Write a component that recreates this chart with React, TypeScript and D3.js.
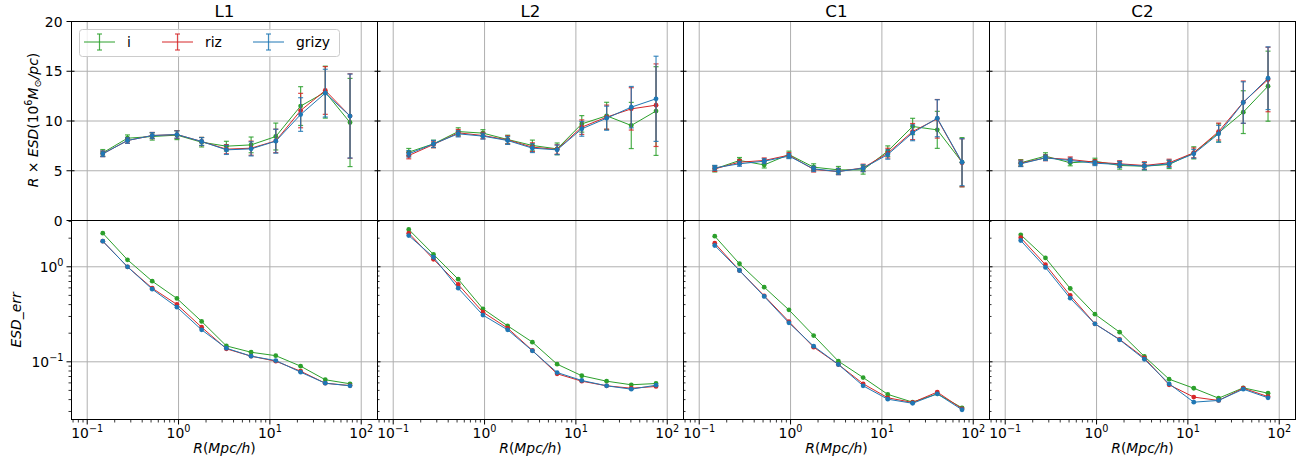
import React from 'react';
import * as d3 from 'd3';

const panelNames = ['L1', 'L2', 'C1', 'C2'];
const radii = [0.148, 0.276, 0.515, 0.96, 1.79, 3.34, 6.23, 11.6, 21.7, 40.4, 75.4];
const topTicks = [0, 5, 10, 15, 20];
const xTicks = [0.1, 1, 10, 100];
const xTickExp = ['\u22121', '0', '1', '2'];
const yLogTicks = [1, 0.1];
const yLogExp = ['0', '\u22121'];

// R x ESD, one row per panel
const rEsdI = [
  [6.8, 8.27, 8.44, 8.58, 7.87, 7.47, 7.6, 8.44, 11.5, 12.9, 9.85],
  [6.87, 7.7, 8.94, 8.78, 8.14, 7.54, 7.2, 9.71, 10.52, 9.55, 11.0],
  [5.19, 6.03, 5.59, 6.63, 5.36, 5.09, 5.09, 6.97, 9.45, 9.11, 5.86],
  [5.8, 6.47, 5.8, 5.96, 5.53, 5.46, 5.63, 6.8, 8.81, 10.89, 13.5],
];
const rEsdRiz = [
  [6.7, 8.04, 8.54, 8.64, 7.94, 7.17, 7.27, 8.0, 11.05, 13.07, 10.5],
  [6.53, 7.64, 8.81, 8.54, 8.1, 7.37, 7.14, 9.38, 10.39, 11.22, 11.59],
  [5.19, 5.86, 6.03, 6.57, 5.13, 4.92, 5.29, 6.77, 8.94, 10.22, 5.8],
  [5.76, 6.3, 6.13, 5.86, 5.7, 5.53, 5.8, 6.8, 8.94, 11.89, 14.17],
];
const rEsdGrizy = [
  [6.7, 8.04, 8.54, 8.64, 7.94, 7.1, 7.2, 7.97, 10.65, 12.8, 10.5],
  [6.7, 7.7, 8.71, 8.48, 8.04, 7.27, 7.1, 9.21, 10.28, 11.39, 12.23],
  [5.29, 5.7, 5.96, 6.47, 5.19, 4.92, 5.26, 6.63, 8.81, 10.28, 5.86],
  [5.7, 6.3, 6.03, 5.76, 5.63, 5.46, 5.7, 6.7, 8.71, 11.86, 14.3],
];

// error bars on R x ESD
const errI = [
  [0.33, 0.33, 0.36, 0.45, 0.48, 0.49, 0.79, 1.35, 1.95, 2.61, 4.43],
  [0.37, 0.37, 0.38, 0.35, 0.43, 0.54, 0.59, 0.83, 1.36, 2.32, 4.46],
  [0.31, 0.3, 0.31, 0.34, 0.34, 0.34, 0.43, 0.53, 0.82, 1.86, 2.47],
  [0.32, 0.34, 0.3, 0.3, 0.37, 0.38, 0.41, 0.61, 0.9, 2.15, 3.52],
];
const errRiz = [
  [0.28, 0.28, 0.31, 0.39, 0.41, 0.46, 0.71, 1.18, 1.73, 2.4, 4.24],
  [0.33, 0.33, 0.34, 0.32, 0.41, 0.44, 0.47, 0.73, 1.21, 2.13, 4.15],
  [0.26, 0.25, 0.26, 0.25, 0.26, 0.31, 0.37, 0.49, 0.81, 1.94, 2.41],
  [0.3, 0.29, 0.26, 0.24, 0.31, 0.37, 0.36, 0.49, 0.85, 2.13, 3.24],
];
const errGrizy = [
  [0.28, 0.28, 0.3, 0.36, 0.39, 0.46, 0.71, 1.2, 1.69, 2.4, 4.22],
  [0.32, 0.35, 0.31, 0.3, 0.39, 0.44, 0.48, 0.74, 1.21, 2.08, 4.28],
  [0.25, 0.25, 0.25, 0.25, 0.26, 0.31, 0.35, 0.47, 0.79, 1.86, 2.36],
  [0.28, 0.27, 0.24, 0.24, 0.31, 0.36, 0.37, 0.44, 0.85, 2.08, 3.15],
];

// ESD_err
const esdErrI = [
  [2.26, 1.185, 0.705, 0.464, 0.266, 0.147, 0.126, 0.116, 0.09, 0.0647, 0.0587],
  [2.47, 1.35, 0.74, 0.361, 0.239, 0.161, 0.0944, 0.0713, 0.0625, 0.0573, 0.0591],
  [2.1, 1.076, 0.61, 0.352, 0.189, 0.1015, 0.0683, 0.0454, 0.0376, 0.046, 0.0328],
  [2.17, 1.24, 0.591, 0.317, 0.205, 0.1138, 0.0656, 0.0527, 0.0414, 0.0532, 0.0467],
];
const esdErrRiz = [
  [1.86, 1.0, 0.595, 0.401, 0.231, 0.137, 0.1146, 0.1015, 0.0796, 0.0595, 0.0562],
  [2.26, 1.2, 0.651, 0.333, 0.226, 0.1315, 0.0748, 0.0625, 0.0559, 0.0527, 0.055],
  [1.77, 0.914, 0.495, 0.265, 0.1425, 0.0937, 0.0587, 0.0418, 0.0373, 0.048, 0.032],
  [2.02, 1.05, 0.499, 0.251, 0.172, 0.1096, 0.0573, 0.0425, 0.0392, 0.0527, 0.043],
];
const esdErrGrizy = [
  [1.86, 1.0, 0.581, 0.376, 0.217, 0.139, 0.1146, 0.103, 0.0778, 0.0595, 0.0559],
  [2.13, 1.26, 0.595, 0.31, 0.217, 0.1305, 0.0771, 0.0636, 0.0559, 0.0515, 0.0567],
  [1.675, 0.914, 0.487, 0.257, 0.146, 0.0937, 0.0559, 0.0404, 0.0366, 0.046, 0.0313],
  [1.89, 0.984, 0.467, 0.251, 0.1705, 0.1064, 0.0587, 0.0376, 0.0392, 0.0515, 0.0418],
];

const series = [
  { name: 'i', color: '#2ca02c', val: rEsdI, err: errI, esd: esdErrI },
  { name: 'riz', color: '#d62728', val: rEsdRiz, err: errRiz, esd: esdErrRiz },
  { name: 'grizy', color: '#1f77b4', val: rEsdGrizy, err: errGrizy, esd: esdErrGrizy },
];

const width = 1314,
  height = 462;
const left = 71.5,
  panelW = 306;
const top = 21.5,
  mid = 220.5,
  bottom = 419.5;
const font = 'DejaVu Sans, sans-serif';
const grid = '#b0b0b0';

const yTop = d3.scaleLinear().domain([0, 20]).range([mid, top]);
const yBot = d3.scaleLog().domain([0.0247, 3.07]).range([bottom, mid]);

const xMinor: number[] = [];
[0.01, 0.1, 1, 10, 100].forEach((d) => {
  for (let k = 2; k <= 9; k++) xMinor.push(k * d);
});
const yMinor: number[] = [];
[0.01, 0.1, 1].forEach((d) => {
  for (let k = 2; k <= 9; k++) yMinor.push(k * d);
});

function Panel({ idx }: { idx: number }) {
  const x0 = left + idx * panelW;
  const x = d3.scaleLog().domain([0.0673, 150.7]).range([x0, x0 + panelW]);
  const [xd0, xd1] = x.domain();
  const minX = xMinor.filter((v) => v > xd0 && v < xd1);
  const [yd0, yd1] = yBot.domain();
  const minY = yMinor.filter((v) => v > yd0 && v < yd1);
  const lineTop = d3
    .line<number>()
    .x((_, i) => x(radii[i]))
    .y((v) => yTop(v));
  const lineBot = d3
    .line<number>()
    .x((_, i) => x(radii[i]))
    .y((v) => yBot(v));
  const first = idx === 0;
  const last = idx === 3;
  return (
    <g>
      {/* grid */}
      {xTicks.map((t) => (
        <line key={'gx' + t} x1={x(t)} x2={x(t)} y1={top} y2={bottom} stroke={grid} strokeWidth={1} />
      ))}
      {topTicks.slice(1, 4).map((t) => (
        <line key={'gy' + t} x1={x0} x2={x0 + panelW} y1={yTop(t)} y2={yTop(t)} stroke={grid} strokeWidth={1} />
      ))}
      {yLogTicks.map((t) => (
        <line key={'gl' + t} x1={x0} x2={x0 + panelW} y1={yBot(t)} y2={yBot(t)} stroke={grid} strokeWidth={1} />
      ))}

      {/* top: R x ESD with error bars */}
      {series.map((s) => (
        <g key={'t' + s.name}>
          <path d={lineTop(s.val[idx]) || ''} fill="none" stroke={s.color} strokeWidth={1} />
          {s.val[idx].map((v, i) => {
            const cx = x(radii[i]);
            const e = s.err[idx][i];
            return (
              <g key={i} stroke={s.color} strokeOpacity={0.85}>
                <line x1={cx} x2={cx} y1={yTop(v + e)} y2={yTop(v - e)} strokeWidth={1.2} />
                <line x1={cx - 2.5} x2={cx + 2.5} y1={yTop(v + e)} y2={yTop(v + e)} strokeWidth={1.2} />
                <line x1={cx - 2.5} x2={cx + 2.5} y1={yTop(v - e)} y2={yTop(v - e)} strokeWidth={1.2} />
                <circle cx={cx} cy={yTop(v)} r={2.4} fill={s.color} stroke="none" />
              </g>
            );
          })}
        </g>
      ))}

      {/* bottom: ESD_err */}
      {series.map((s) => (
        <g key={'b' + s.name}>
          <path d={lineBot(s.esd[idx]) || ''} fill="none" stroke={s.color} strokeWidth={1} />
          {s.esd[idx].map((v, i) => (
            <circle key={i} cx={x(radii[i])} cy={yBot(v)} r={2.4} fill={s.color} />
          ))}
        </g>
      ))}

      {/* ticks */}
      {xTicks.map((t) => (
        <line key={'xt' + t} x1={x(t)} x2={x(t)} y1={bottom} y2={bottom + 5} stroke="#000" strokeWidth={1} />
      ))}
      {minX.map((t) => (
        <line key={'xm' + t} x1={x(t)} x2={x(t)} y1={bottom} y2={bottom + 3} stroke="#000" strokeWidth={0.8} />
      ))}
      {topTicks.map((t) => (
        <g key={'yt' + t}>
          <line x1={first ? x0 - 5 : x0 - 3} x2={x0 + 3} y1={yTop(t)} y2={yTop(t)} stroke="#000" strokeWidth={1} />
          {last && <line x1={x0 + panelW - 5} x2={x0 + panelW} y1={yTop(t)} y2={yTop(t)} stroke="#000" strokeWidth={1} />}
        </g>
      ))}
      {yLogTicks.map((t) => (
        <line key={'yl' + t} x1={first ? x0 - 5 : x0} x2={first ? x0 : x0 + 3} y1={yBot(t)} y2={yBot(t)} stroke="#000" strokeWidth={1} />
      ))}
      {minY.map((t) => (
        <line key={'ym' + t} x1={first ? x0 - 3 : x0} x2={first ? x0 : x0 + 2} y1={yBot(t)} y2={yBot(t)} stroke="#000" strokeWidth={0.8} />
      ))}

      {/* frame */}
      <rect x={x0} y={top} width={panelW} height={bottom - top} fill="none" stroke="#000" strokeWidth={1} />
      <line x1={x0} x2={x0 + panelW} y1={mid} y2={mid} stroke="#000" strokeWidth={1} />

      {/* labels */}
      <text x={x0 + panelW / 2} y={top - 5} textAnchor="middle" fontSize={16.7} fontFamily={font}>
        {panelNames[idx]}
      </text>
      {xTicks.map((t, i) => (
        <text key={'xl' + t} x={x(t)} y={438} textAnchor="middle" fontSize={13.9} fontFamily={font}>
          10<tspan dy={-6} fontSize={9.7}>{xTickExp[i]}</tspan>
        </text>
      ))}
      <text x={x0 + panelW / 2} y={453} textAnchor="middle" fontSize={13.9} fontFamily={font} fontStyle="italic">
        R<tspan fontStyle="normal">(</tspan>Mpc/h<tspan fontStyle="normal">)</tspan>
      </text>
      {first &&
        topTicks.map((t) => (
          <text key={'tl' + t} x={x0 - 9} y={yTop(t) + 5} textAnchor="end" fontSize={13.9} fontFamily={font}>
            {t}
          </text>
        ))}
      {first &&
        yLogTicks.map((t, i) => (
          <text key={'ll' + t} x={x0 - 8} y={yBot(t) + 5} textAnchor="end" fontSize={13.9} fontFamily={font}>
            10<tspan dy={-6} fontSize={9.7}>{yLogExp[i]}</tspan>
          </text>
        ))}
    </g>
  );
}

function Legend() {
  const bx = 79.5,
    by = 29.5;
  const items = [
    { s: series[0], hx: 84, tx: 127 },
    { s: series[1], hx: 162, tx: 205 },
    { s: series[2], hx: 253, tx: 296 },
  ];
  const cy = 42;
  return (
    <g>
      <rect x={bx} y={by} width={260} height={27} rx={3} fill="#fff" fillOpacity={0.8} stroke="#cccccc" strokeWidth={1} />
      {items.map(({ s, hx, tx }) => (
        <g key={s.name}>
          <g stroke={s.color}>
            <line x1={hx} x2={hx + 31} y1={cy} y2={cy} strokeWidth={1} />
            <line x1={hx + 15.5} x2={hx + 15.5} y1={cy - 8} y2={cy + 8} strokeWidth={1.2} strokeOpacity={0.85} />
            <line x1={hx + 13} x2={hx + 18} y1={cy - 8} y2={cy - 8} strokeWidth={1.2} strokeOpacity={0.85} />
            <line x1={hx + 13} x2={hx + 18} y1={cy + 8} y2={cy + 8} strokeWidth={1.2} strokeOpacity={0.85} />
          </g>
          <text x={tx} y={cy + 5} fontSize={13.9} fontFamily={font}>
            {s.name}
          </text>
        </g>
      ))}
    </g>
  );
}

export default function App() {
  return (
    <svg width={width} height={height} viewBox={`0 0 ${width} ${height}`} style={{ position: 'absolute', left: 0, top: 0, background: '#fff' }}>
      <rect width={width} height={height} fill="#fff" />
      {panelNames.map((_, i) => (
        <Panel key={i} idx={i} />
      ))}
      <Legend />
      <text transform="translate(38,120) rotate(-90)" textAnchor="middle" fontSize={13.9} fontFamily={font}>
        <tspan fontStyle="italic">R</tspan> × <tspan fontStyle="italic">ESD</tspan>(10
        <tspan dy={-6} fontSize={9.7}>6</tspan>
        <tspan dy={6} fontStyle="italic">M</tspan>
        <tspan dy={3} fontSize={9.7}>⊙</tspan>
        <tspan dy={-3} fontStyle="italic">/pc</tspan>)
      </text>
      <text transform="translate(21,320) rotate(-90)" textAnchor="middle" fontSize={13.9} fontFamily={font} fontStyle="italic">
        ESD_err
      </text>
    </svg>
  );
}
